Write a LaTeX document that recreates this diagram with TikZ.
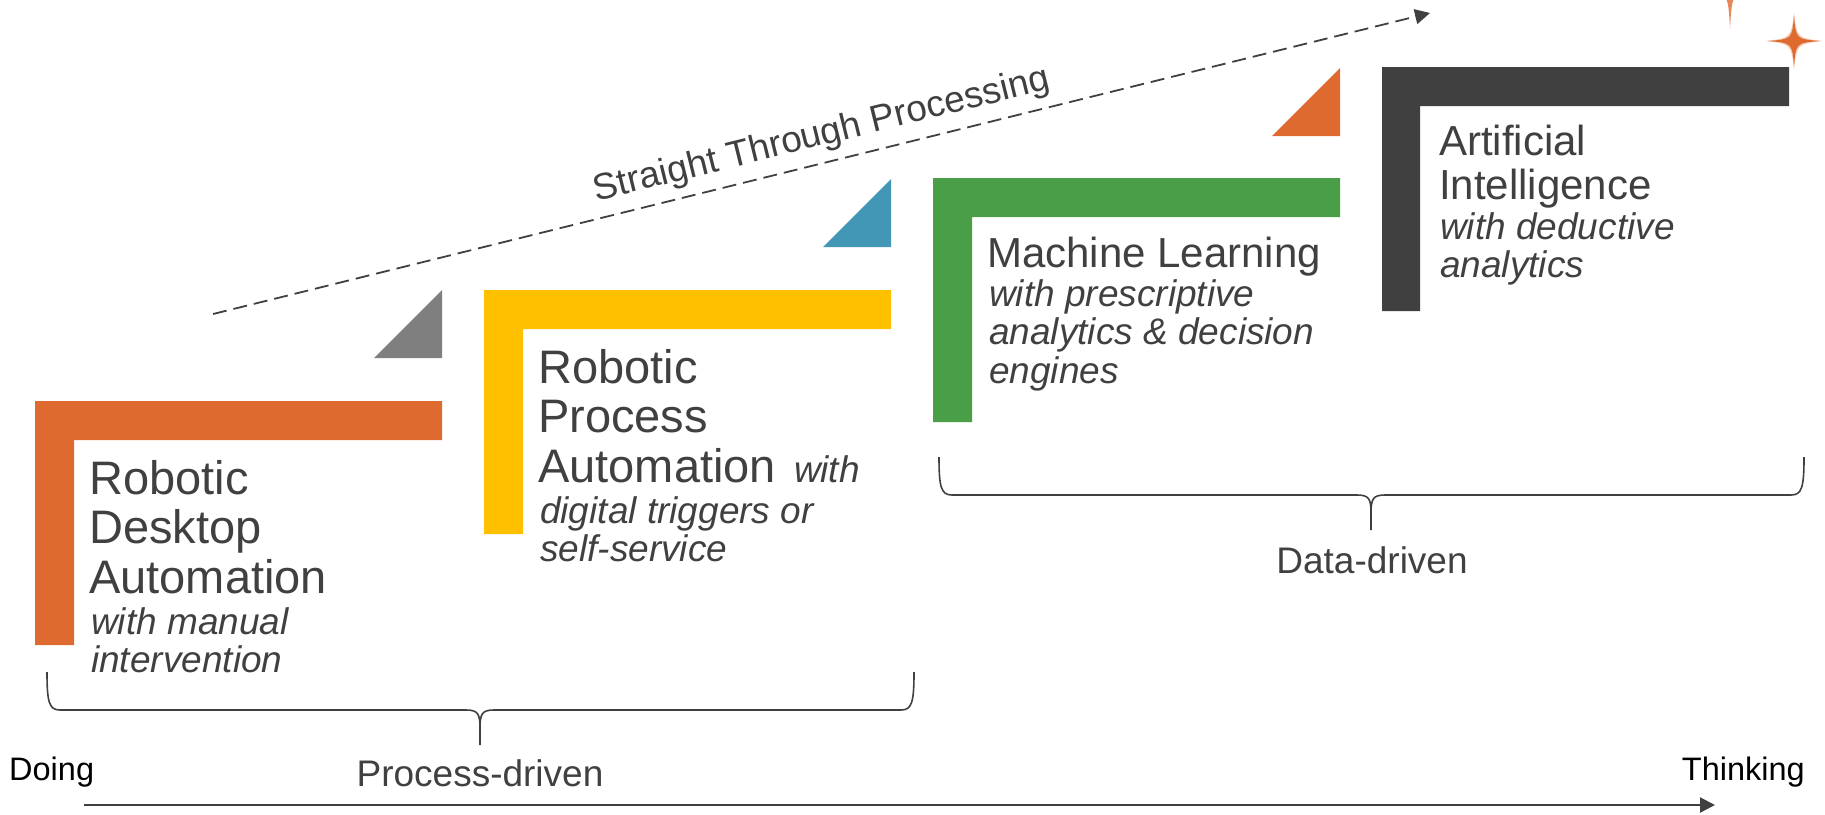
\documentclass[tikz,border=0pt]{standalone}
\usepackage{fontspec}
\setmainfont{Liberation Sans}
\usetikzlibrary{arrows.meta}

\definecolor{rdaorange}{RGB}{223,106,48}
\definecolor{rpayellow}{RGB}{255,192,0}
\definecolor{mlgreen}{RGB}{75,158,72}
\definecolor{aidark}{RGB}{64,64,64}
\definecolor{trigray}{RGB}{127,127,127}
\definecolor{triblue}{RGB}{65,151,181}
\definecolor{textgray}{RGB}{64,64,64}

\newcommand{\notefont}{\fontsize{37}{38.5}\selectfont\itshape}

\begin{document}
\begin{tikzpicture}[x=1pt,y=-1pt,
	title/.style={anchor=north west, inner sep=0pt, align=left, text=textgray,
	              font=\fontsize{47}{49.5}\selectfont},
	small title/.style={title, font=\fontsize{42}{44}\selectfont},
	note/.style={anchor=north west, inner sep=0pt, align=left, text=textgray,
	             font=\notefont},
	caption/.style={anchor=base, inner sep=0pt, text=textgray,
	                font=\fontsize{37}{40}\selectfont},
	axis label/.style={inner sep=0pt, font=\fontsize{32.5}{35}\selectfont},
	brace line/.style={draw=textgray, line width=1.6pt},
	sparkle/.style={fill=rdaorange}]
	\useasboundingbox (0,0) rectangle (1825,814);

	% stage brackets
	\fill[rdaorange] (35,401) -- (442,401) -- (442,440) -- (74,440) -- (74,645) -- (35,645) -- cycle;
	\fill[rpayellow] (484,290) -- (891,290) -- (891,329) -- (523,329) -- (523,534) -- (484,534) -- cycle;
	\fill[mlgreen] (933,178) -- (1340,178) -- (1340,217) -- (972,217) -- (972,422) -- (933,422) -- cycle;
	\fill[aidark] (1382,67) -- (1789,67) -- (1789,106) -- (1420,106) -- (1420,311) -- (1382,311) -- cycle;

	% small corner triangles
	\fill[trigray] (442,358) -- (442,290) -- (374,358) -- cycle;
	\fill[triblue] (891,247) -- (891,179) -- (823,247) -- cycle;
	\fill[rdaorange] (1340,136) -- (1340,68) -- (1272,136) -- cycle;

	% stage texts
	\node[title] (rda) at (89,460) {Robotic\\Desktop\\Automation};
	\node[note] (rdanote) at (91,607) {with manual\\intervention};
	\node[title] (rpa) at (538,349) {Robotic\\Process\\Automation\hspace{5pt} {\notefont with}};
	\node[note] (rpanote) at (540,496) {digital triggers or\\self-service};
	\node[small title] (ml) at (987,237) {Machine Learning};
	\node[note] (mlnote) at (989,279) {with prescriptive\\analytics \& decision\\engines};
	\node[small title] (ai) at (1439,125) {Artificial\\Intelligence};
	\node[note] (ainote) at (1440,212) {with deductive\\analytics};

	% straight through processing
	\coordinate (stpstart) at (213,314);
	\coordinate (stpend) at (1430,13);
	\draw[textgray, line width=1.8pt, dash pattern=on 14pt off 7pt,
	      -{Triangle[length=15pt,width=15pt]}] (stpstart) -- (stpend);
	\node[caption, rotate=13.9] (stp) at (824,145) {Straight Through Processing};

	% braces
	\draw[brace line] (47,672) .. controls (47,702) and (49,710) .. (60,710) -- (466,710)
		.. controls (478,710) and (480,714) .. (480,728) -- (480,745) -- (480,728)
		.. controls (480,714) and (482,710) .. (494,710) -- (901,710)
		.. controls (912,710) and (914,702) .. (914,672);
	\node[caption] (procdriven) at (480,786) {Process-driven};

	\draw[brace line] (939,457) .. controls (939,487) and (941,495) .. (952,495) -- (1357,495)
		.. controls (1369,495) and (1371,499) .. (1371,513) -- (1371,530) -- (1371,513)
		.. controls (1371,499) and (1373,495) .. (1385,495) -- (1791,495)
		.. controls (1802,495) and (1804,487) .. (1804,457);
	\node[caption] (datadriven) at (1372,573) {Data-driven};

	% doing -> thinking axis
	\node[axis label, anchor=base west] (doing) at (9,780) {Doing};
	\node[axis label, anchor=base east] (thinking) at (1805,780) {Thinking};
	\coordinate (axisstart) at (84,805);
	\coordinate (axisend) at (1715,805);
	\draw[textgray, line width=2.2pt, -{Triangle[length=15pt,width=15pt]}] (axisstart) -- (axisend);

	% sparkles
	\begin{scope}
		\clip (0,0) rectangle (1825,814);
		\fill[sparkle, opacity=0.35] (1794,12) .. controls (1797,38) .. (1823,41) .. controls (1797,44) .. (1794,70)
			.. controls (1791,44) .. (1765,41) .. controls (1791,38) .. cycle;
		\fill[sparkle] (1794,16) .. controls (1796,39) .. (1820,41) .. controls (1796,43) .. (1794,66)
			.. controls (1792,43) .. (1768,41) .. controls (1792,39) .. cycle;
		\fill[sparkle, opacity=0.8] (1730,-40) .. controls (1732,-12) .. (1760,-10) .. controls (1732,-8) .. (1730,29)
			.. controls (1728,-8) .. (1700,-10) .. controls (1728,-12) .. cycle;
	\end{scope}
\end{tikzpicture}
\end{document}
